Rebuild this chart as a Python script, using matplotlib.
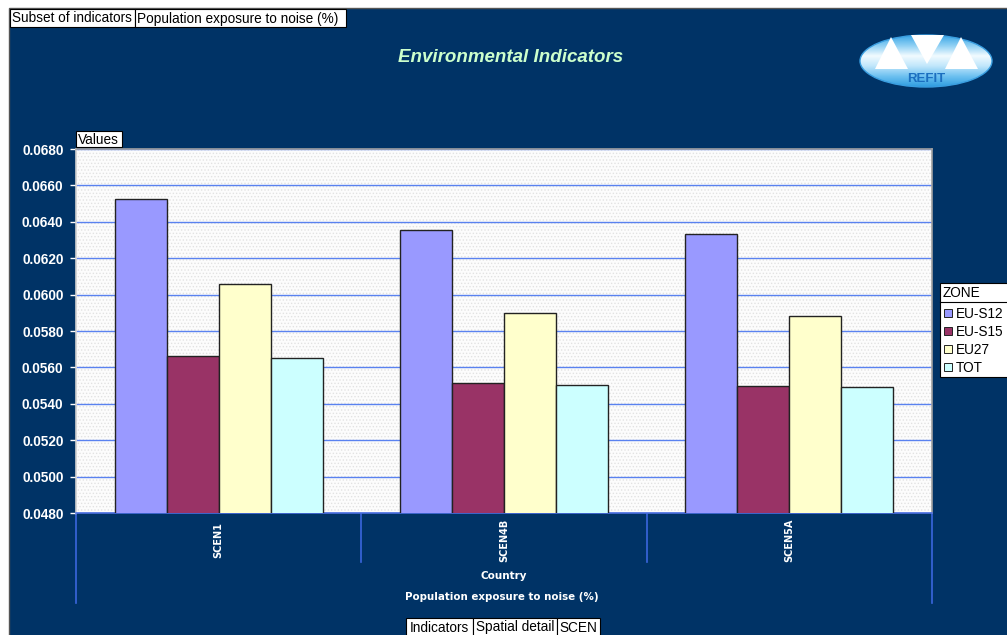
import matplotlib.pyplot as plt
import numpy as np
from matplotlib.patches import Rectangle, Ellipse, Polygon
from matplotlib.colors import LinearSegmentedColormap

plt.rcParams['font.family'] = ['Liberation Sans', 'DejaVu Sans']
plt.rcParams['hatch.color'] = '#e2e2e2'
plt.rcParams['hatch.linewidth'] = 0.6

# data
scenarios = ['SCEN1', 'SCEN4B', 'SCEN5A']
zones = ['EU-S12', 'EU-S15', 'EU27', 'TOT']
eu_s12 = [0.06525, 0.06355, 0.06335]
eu_s15 = [0.05663, 0.05514, 0.05498]
eu27 = [0.06060, 0.05900, 0.05884]
tot = [0.05652, 0.05503, 0.05492]
zone_colors = ['#9999ff', '#993366', '#ffffcc', '#ccffff']
yticks = [0.048, 0.050, 0.052, 0.054, 0.056, 0.058, 0.060, 0.062, 0.064, 0.066, 0.068]

navy = '#003366'
W, H = 1007, 635
fig = plt.figure(figsize=(W / 100, H / 100), dpi=100)
fig.patch.set_facecolor('white')

# overlay in pixel coordinates for the frame, boxes and logo
ov = fig.add_axes([0, 0, 1, 1])
ov.set_xlim(0, W)
ov.set_ylim(H, 0)
ov.axis('off')
ov.add_patch(Rectangle((9, 8), W, H, facecolor=navy, edgecolor='#555555', lw=1))

# plot area
ax = fig.add_axes([76 / W, 1 - 513 / H, (932 - 76) / W, (513 - 149) / H])
ax.set_facecolor('#fcfcfc')
ax.add_patch(Rectangle((0, 0), 1, 1, transform=ax.transAxes, facecolor='none',
                       hatch='.....', lw=0, zorder=0))
series = [eu_s12, eu_s15, eu27, tot]
x = np.arange(len(scenarios))
bw = 0.182
for i, (vals, c) in enumerate(zip(series, zone_colors)):
    ax.bar(x + (i - 1.5) * bw, vals, bw, color=c, edgecolor='#222222', lw=1, zorder=3)
ax.set_xlim(-0.5, 2.5)
ax.set_ylim(0.048, 0.068)
ax.set_yticks(yticks)
ax.set_yticklabels(['%.4f' % v for v in yticks], color='white', fontweight='bold', fontsize=9.8)
ax.tick_params(axis='y', colors='white', length=4, width=1, pad=5, labelcolor='white')
ax.set_xticks([])
ax.yaxis.grid(True, color='#5a82f0', lw=1, zorder=1)
ax.set_axisbelow(True)
ax.spines['top'].set_color('#a0a0a0')
ax.spines['right'].set_color('#a0a0a0')
ax.spines['left'].set_color('#d0d0d0')
ax.spines['bottom'].set_color('#4a6fe0')
for s in ax.spines.values():
    s.set_linewidth(1.2)

# category separators and labels below the plot
gx = np.linspace(76, 932, len(scenarios) + 1)
for j, xv in enumerate(gx):
    bottom = 603 if j in (0, len(gx) - 1) else 562
    ov.plot([xv, xv], [513, bottom], color='#3a66dd', lw=1.2)
for j, name in enumerate(scenarios):
    ov.text((gx[j] + gx[j + 1]) / 2, 540, name, rotation=90, ha='center', va='center',
            color='white', fontsize=7, fontweight='bold', family=['DejaVu Sans'])
ov.text(504, 576, 'Country', ha='center', va='center', color='white',
        fontsize=7.5, fontweight='bold', family=['DejaVu Sans'])
ov.text(502, 597, 'Population exposure to noise (%)', ha='center', va='center',
        color='white', fontsize=7.4, fontweight='bold', family=['DejaVu Sans'])

# title
ov.text(511, 58, 'Environmental Indicators', ha='center', va='center', color='#ccffcc',
        fontsize=13.5, fontweight='bold', fontstyle='italic')


def label_box(x0, x1, y0, y1, txt, ha='left'):
    ov.add_patch(Rectangle((x0, y0), x1 - x0, y1 - y0, facecolor='white',
                           edgecolor='black', lw=0.8, zorder=5))
    tx = x0 + 2 if ha == 'left' else (x0 + x1) / 2
    ov.text(tx, (y0 + y1) / 2 + 0.5, txt, ha=ha, va='center', fontsize=9.8,
            color='black', zorder=6)


label_box(10, 135, 9, 27, 'Subset of indicators')
label_box(135, 346, 9, 27, 'Population exposure to noise (%)')
label_box(76, 122, 131, 147, 'Values')
label_box(406, 473, 618, 636, 'Indicators', ha='center')
label_box(473, 557, 618, 636, 'Spatial detail', ha='center')
label_box(557, 600, 618, 636, 'SCEN', ha='center')

# legend
ov.add_patch(Rectangle((940, 283), 80, 94, facecolor='white', edgecolor='black', lw=0.8))
ov.plot([940, 1010], [302, 302], color='black', lw=0.8)
ov.text(943, 293, 'ZONE', ha='left', va='center', fontsize=9.8)
for k, (z, c) in enumerate(zip(zones, zone_colors)):
    yy = 313 + k * 18
    ov.add_patch(Rectangle((944, yy - 4), 8, 8, facecolor=c, edgecolor='#222222', lw=0.7))
    ov.text(956, yy + 0.5, z, ha='left', va='center', fontsize=9.8)

# logo
grad = np.linspace(0, 1, 100)[:, None] * np.ones((1, 100))
logo_cmap = LinearSegmentedColormap.from_list(
    'logo', ['#2f9de0', '#6cc0f0', '#bfe6fb', '#f2fbff', '#8fd0f4', '#3aa6e6'])
img = ov.imshow(grad, extent=(860, 992, 35, 87), cmap=logo_cmap, aspect='auto', zorder=3)
ell = Ellipse((926, 61), 132, 52, facecolor='none', edgecolor='#3a9ee0', lw=1, zorder=4)
ov.add_patch(ell)
img.set_clip_path(ell)
for pts in ([(875, 69), (891, 37), (908, 69)],
            [(911, 35), (944, 35), (927, 64)],
            [(945, 69), (961, 37), (978, 69)]):
    ov.add_patch(Polygon(pts, closed=True, facecolor='white', edgecolor='none', zorder=5))
ov.text(926, 79, 'REFIT', ha='center', va='center', color='#1b6fc0', fontsize=9.5,
        fontweight='bold', zorder=6)
ov.set_xlim(0, W)
ov.set_ylim(H, 0)

fig.savefig('out.png', dpi=100, facecolor=fig.get_facecolor())
